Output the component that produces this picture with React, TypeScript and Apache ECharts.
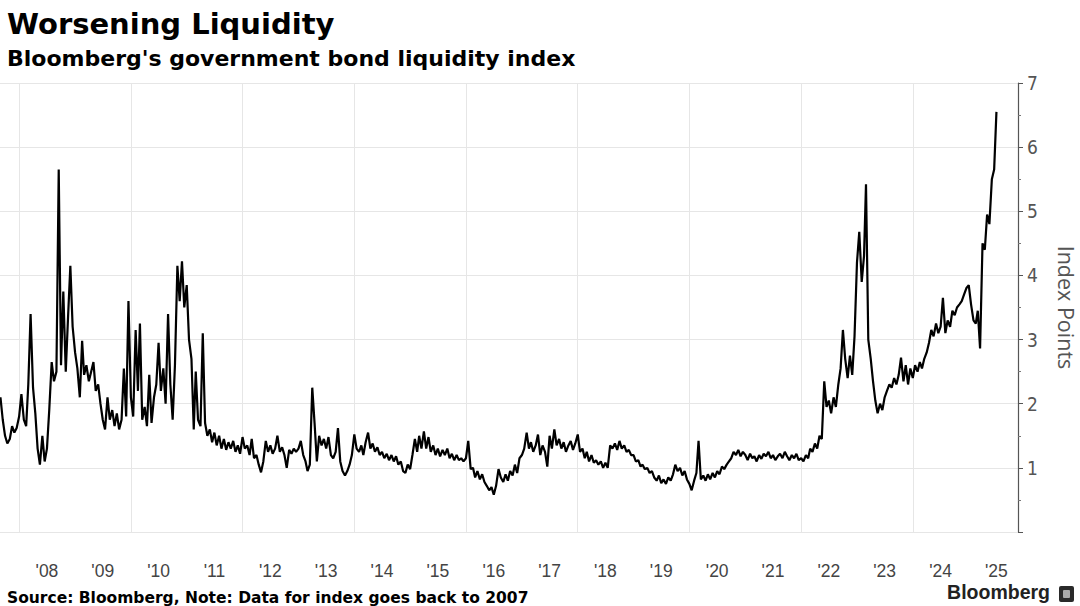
import React, { useEffect, useRef } from "react";
import * as echarts from "echarts";

// Semi-monthly readings (1st and 16th of each month), index points
const v2007 = [2.1, 1.75, 1.5, 1.38, 1.45, 1.65, 1.55, 1.62];
const v2008 = [1.8, 2.15, 1.75, 1.65, 2.3, 3.4, 2.25, 1.85, 1.3, 1.05, 1.5, 1.1, 1.3, 1.9, 2.65, 2.35, 2.5, 5.65, 2.6, 3.75, 2.5, 3.35, 4.15, 3.2];
const v2009 = [2.8, 2.55, 2.1, 2.98, 2.45, 2.6, 2.35, 2.5, 2.65, 2.2, 2.3, 2.0, 1.75, 1.6, 2.1, 1.75, 1.9, 1.65, 1.85, 1.6, 1.75, 2.55, 1.8, 3.6];
const v2010 = [2.1, 1.8, 3.15, 2.2, 3.25, 1.75, 1.95, 1.65, 2.45, 1.7, 2.1, 2.3, 2.95, 2.2, 2.55, 2.0, 3.4, 2.3, 1.75, 2.6, 4.15, 3.6, 4.22, 3.5];
const v2011 = [3.85, 3.0, 2.7, 1.6, 2.5, 1.75, 1.65, 3.1, 1.7, 1.5, 1.6, 1.4, 1.55, 1.35, 1.5, 1.3, 1.45, 1.28, 1.4, 1.3, 1.42, 1.25, 1.35, 1.22];
const v2012 = [1.48, 1.3, 1.35, 1.2, 1.45, 1.15, 1.2, 1.05, 0.93, 1.1, 1.42, 1.25, 1.35, 1.22, 1.3, 1.5, 1.25, 1.32, 1.2, 1.0, 1.28, 1.22, 1.3, 1.25];
const v2013 = [1.3, 1.42, 1.2, 1.1, 0.95, 1.05, 2.25, 1.7, 1.1, 1.5, 1.35, 1.45, 1.3, 1.48, 1.2, 1.15, 1.25, 1.62, 1.1, 0.95, 0.88, 0.95, 1.05, 1.2];
const v2014 = [1.52, 1.3, 1.25, 1.35, 1.2, 1.4, 1.55, 1.3, 1.38, 1.25, 1.32, 1.2, 1.25, 1.15, 1.22, 1.12, 1.2, 1.1, 1.18, 1.05, 1.1, 0.95, 0.92, 1.05];
const v2015 = [0.98, 1.2, 1.45, 1.25, 1.5, 1.3, 1.57, 1.3, 1.48, 1.25, 1.35, 1.2, 1.3, 1.18, 1.28, 1.2, 1.3, 1.15, 1.22, 1.12, 1.2, 1.12, 1.15, 1.1];
const v2016 = [1.15, 1.42, 0.98, 1.0, 0.85, 0.95, 0.82, 0.9, 0.78, 0.72, 0.65, 0.7, 0.58, 0.72, 0.98, 0.85, 0.78, 0.9, 0.8, 0.95, 0.88, 1.05, 0.92, 1.15];
const v2017 = [1.2, 1.3, 1.55, 1.3, 1.4, 1.25, 1.35, 1.52, 1.2, 1.35, 1.25, 1.02, 1.5, 1.3, 1.6, 1.35, 1.45, 1.3, 1.4, 1.25, 1.35, 1.42, 1.28, 1.38];
const v2018 = [1.52, 1.25, 1.3, 1.15, 1.25, 1.1, 1.2, 1.08, 1.12, 1.05, 1.1, 1.0, 1.08, 1.0, 1.35, 1.3, 1.38, 1.28, 1.42, 1.3, 1.35, 1.25, 1.28, 1.2];
const v2019 = [1.2, 1.1, 1.12, 1.02, 1.05, 0.98, 1.0, 0.92, 0.95, 0.85, 0.8, 0.88, 0.76, 0.82, 0.75, 0.85, 0.8, 0.9, 1.05, 0.95, 1.0, 0.88, 0.95, 0.82];
const v2020 = [0.75, 0.65, 0.8, 0.92, 1.42, 0.82, 0.88, 0.8, 0.9, 0.82, 0.92, 0.85, 0.95, 0.9, 1.02, 0.98, 1.05, 1.1, 1.15, 1.25, 1.2, 1.28, 1.18, 1.25];
const v2021 = [1.2, 1.12, 1.22, 1.15, 1.18, 1.1, 1.2, 1.14, 1.22, 1.18, 1.25, 1.15, 1.2, 1.12, 1.18, 1.22, 1.15, 1.25, 1.18, 1.12, 1.2, 1.15, 1.22, 1.12];
const v2022 = [1.15, 1.1, 1.2, 1.15, 1.3, 1.25, 1.38, 1.3, 1.5, 1.45, 2.35, 1.95, 2.05, 1.85, 2.1, 1.95, 2.3, 2.55, 3.15, 2.7, 2.4, 2.75, 2.45, 3.05];
const v2023 = [4.2, 4.68, 3.9, 4.3, 5.42, 3.0, 2.7, 2.35, 2.05, 1.85, 2.0, 1.9, 2.1, 2.2, 2.3, 2.25, 2.4, 2.3, 2.45, 2.72, 2.35, 2.6, 2.3, 2.55];
const v2024 = [2.4, 2.6, 2.5, 2.65, 2.55, 2.7, 2.8, 2.95, 3.15, 3.05, 3.25, 3.1, 3.2, 3.65, 3.1, 3.3, 3.2, 3.45, 3.38, 3.5, 3.55, 3.6, 3.7, 3.8];
const v2025 = [3.85, 3.55, 3.3, 3.25, 3.45, 2.86, 4.5, 4.4, 4.95, 4.8, 5.5, 5.65, 6.55];

// [year, first month, values]
const yearBlocks: [number, number, number[]][] = [
  [2007, 9, v2007], [2008, 1, v2008], [2009, 1, v2009], [2010, 1, v2010],
  [2011, 1, v2011], [2012, 1, v2012], [2013, 1, v2013], [2014, 1, v2014],
  [2015, 1, v2015], [2016, 1, v2016], [2017, 1, v2017], [2018, 1, v2018],
  [2019, 1, v2019], [2020, 1, v2020], [2021, 1, v2021], [2022, 1, v2022],
  [2023, 1, v2023], [2024, 1, v2024], [2025, 1, v2025],
];

const gridYears = [2008, 2010, 2012, 2014, 2016, 2018, 2020, 2022, 2024];
const labelYears = [2008, 2009, 2010, 2011, 2012, 2013, 2014, 2015, 2016, 2017, 2018, 2019, 2020, 2021, 2022, 2023, 2024, 2025];
const yMin = 0;
const yMax = 7;

const TITLE = "Worsening Liquidity";
const SUBTITLE = "Bloomberg's government bond liquidity index";
const SOURCE = "Source: Bloomberg, Note: Data for index goes back to 2007";
const AXIS_NAME = "Index Points";

function buildData(): [number, number][] {
  const out: [number, number][] = [];
  for (const [year, startMonth, vals] of yearBlocks) {
    vals.forEach((v, k) => {
      const m = startMonth - 1 + Math.floor(k / 2);
      const d = k % 2 === 0 ? 1 : 16;
      out.push([+new Date(year, m, d), v]);
    });
  }
  return out;
}

const BOLD_FONT = "'DejaVu Sans', sans-serif";
const NARROW_FONT = "'Liberation Sans Narrow', 'DejaVu Sans Condensed', 'Roboto', sans-serif";
const LABEL_FONT = "'Liberation Sans', Arial, sans-serif";
const NAME_FONT = "'Open Sans', 'Noto Sans', sans-serif";

const X_MIN = +new Date(2007, 7, 29);
const X_MAX = +new Date(2025, 10, 19);

export default function App() {
  const ref = useRef<HTMLDivElement>(null);
  useEffect(() => {
    document.body.style.margin = "0";
    if (!ref.current) return;
    const chart = echarts.init(ref.current, undefined, { renderer: "svg" });
    chart.setOption({
      animation: false,
      backgroundColor: "#ffffff",
      title: [
        {
          text: TITLE,
          left: 2,
          top: 4,
          textStyle: { fontFamily: BOLD_FONT, fontSize: 29, fontWeight: "bold", color: "#000" },
        },
        {
          text: SUBTITLE,
          left: 2,
          top: 42,
          textStyle: { fontFamily: BOLD_FONT, fontSize: 22, fontWeight: "bold", color: "#000" },
        },
        {
          text: SOURCE,
          left: 2,
          top: 585,
          textStyle: { fontFamily: BOLD_FONT, fontSize: 15.5, fontWeight: "bold", color: "#000" },
        },
      ],
      grid: { left: 0, right: 62, top: 83, bottom: 74, containLabel: false, outerBoundsMode: "none" },
      xAxis: [
        {
          type: "time",
          min: X_MIN,
          max: X_MAX,
          axisLine: { show: false },
          axisTick: { show: false },
          splitLine: { show: false },
          axisLabel: { show: false },
        },
        {
          type: "value",
          position: "bottom",
          min: X_MIN,
          max: X_MAX,
          axisLine: { show: false },
          axisTick: {
            show: false,
            customValues: gridYears.map((y) => +new Date(y, 0, 1)),
          },
          splitLine: { show: true, lineStyle: { color: "#e6e6e6", width: 1 } },
          axisLabel: {
            customValues: labelYears.map((y) => +new Date(y, 6, 1)),
            formatter: (v: number) => "'" + String(new Date(v).getFullYear()).slice(2),
            margin: 30,
            color: "#444",
            fontSize: 17.5,
            fontFamily: LABEL_FONT,
          },
        },
      ],
      yAxis: {
        type: "value",
        position: "right",
        min: yMin,
        max: yMax,
        interval: 1,
        axisLine: { show: true, lineStyle: { color: "#555", width: 1.2 } },
        axisTick: { show: true, length: 5, lineStyle: { color: "#555" } },
        minorTick: { show: true, splitNumber: 2, length: 3, lineStyle: { color: "#777" } },
        splitLine: { show: true, lineStyle: { color: "#e6e6e6", width: 1 } },
        axisLabel: {
          formatter: (v: number) => (v === 0 ? "" : String(v)),
          color: "#555",
          fontSize: 19,
          margin: 9,
          fontFamily: NARROW_FONT,
        },
        name: AXIS_NAME,
        nameLocation: "middle",
        nameRotate: -90,
        nameGap: 37,
        nameTextStyle: { fontSize: 21.5, color: "#555", fontFamily: NAME_FONT },
      },
      series: [
        {
          type: "line",
          xAxisIndex: 0,
          data: buildData(),
          showSymbol: false,
          symbol: "none",
          lineStyle: { color: "#000", width: 2.2 },
          z: 3,
        },
      ],
      graphic: [
        {
          type: "text",
          right: 30,
          top: 582,
          style: { text: "Bloomberg", fontSize: 19.5, fontWeight: "bold", fill: "#222", fontFamily: LABEL_FONT },
        },
        {
          type: "rect",
          left: 1059,
          top: 586,
          shape: { width: 15, height: 16, r: 2 },
          style: { fill: "#2a2a2a" },
        },
        {
          type: "rect",
          left: 1063,
          top: 590,
          shape: { width: 7, height: 8, r: 1 },
          style: { fill: "#aaa" },
        },
      ],
    });
    return () => chart.dispose();
  }, []);
  return <div ref={ref} style={{ width: 1080, height: 606 }} />;
}
